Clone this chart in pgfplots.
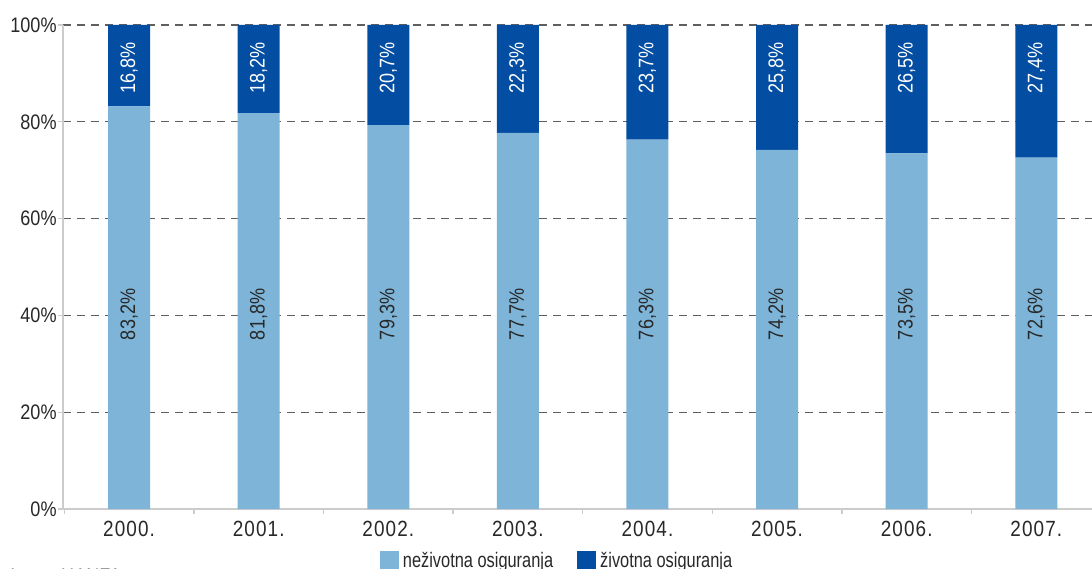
\documentclass[border=0pt]{standalone}
\usepackage{fontspec}
\setmainfont{Liberation Sans}[FakeStretch=0.86]
\newfontfamily\legfont{Liberation Sans}[FakeStretch=0.78]
\newfontfamily\xfont{Liberation Sans}[FakeStretch=0.86, LetterSpace=5]
\usepackage{pgfplots}
\usepackage{pgfplotstable}
\pgfplotsset{compat=1.18}
\definecolor{light}{RGB}{125,180,216}
\definecolor{dark}{RGB}{3,78,162}
\definecolor{axgray}{RGB}{204,204,204}
\definecolor{gridgray}{RGB}{95,95,95}
\definecolor{txt}{RGB}{40,40,40}
\pgfplotstableread{
x v
0 83.2
1 81.8
2 79.3
3 77.7
4 76.3
5 74.2
6 73.5
7 72.6
}\nez
\pgfplotstableread{
x v
0 16.8
1 18.2
2 20.7
3 22.3
4 23.7
5 25.8
6 26.5
7 27.4
}\ziv
\pgfplotsset{
  common/.style={
    at={(31.5pt,29.5pt)}, anchor=south west,
    scale only axis, width=514.5pt, height=242pt,
    xmin=-0.51, xmax=7.43, ymin=0, ymax=100,
  }
}
\begin{document}
\begin{tikzpicture}[x=1pt,y=1pt]
\useasboundingbox (0,0) rectangle (546,284);
\begin{axis}[
  common,
  ybar stacked, bar width=21pt,
  axis x line*=bottom, axis y line*=left,
  axis line style={axgray, line width=0.7pt},
  tick align=outside,
  xtick={0,...,7},
  xticklabels={2000.,2001.,2002.,2003.,2004.,2005.,2006.,2007.},
  minor xtick={-0.5,0.5,...,7.5},
  major x tick style={draw=none},
  minor x tick style={axgray, line width=0.7pt},
  minor tick length=2.5pt,
  ytick={20,40,...,100},
  extra y ticks={0},
  extra y tick style={grid=none},
  y tick style={axgray, line width=0.7pt},
  major tick length=2.5pt,
  ymajorgrids,
  grid style={gridgray, line width=0.6pt, dash pattern=on 4pt off 3pt},
  /pgf/number format/assume math mode=true,
  yticklabel={\pgfmathprintnumber{\tick}\%},
  ticklabel style={font=\fontsize{10.5}{12}\selectfont, text=txt},
  yticklabel style={inner xsep=0.5pt},
  xticklabel style={inner ysep=1.5pt, yshift=-2pt, font=\xfont\fontsize{11}{12}\selectfont},
  legend style={at={(0.308,0)}, anchor=north west, yshift=-19.5pt, draw=none, fill=none,
    legend columns=-1, font=\legfont\fontsize{10.5}{12}\selectfont, text=txt,
    /tikz/every even column/.append style={column sep=10pt},
    inner sep=0pt, outer sep=0pt},
  legend image code/.code={\fill[#1] (0pt,-4.5pt) rectangle (9.5pt,5pt);},
]
\addplot[fill=light, draw=none] table[x=x, y=v] {\nez};
\addplot[fill=dark, draw=none] table[x=x, y=v] {\ziv};
\legend{neživotna osiguranja, životna osiguranja}
\end{axis}
\begin{axis}[
  common, hide axis,
  point meta=explicit,
  nodes near coords={\pgfmathprintnumber[fixed,fixed zerofill,precision=1,use comma,assume math mode=true]{\pgfplotspointmeta}\%},
  every node near coord/.append style={rotate=90, anchor=center, inner sep=0pt, font=\fontsize{10.5}{12}\selectfont},
]
\addplot[only marks, mark=none, every node near coord/.append style={text=txt}] table[x=x, y expr=40.2, meta=v] {\nez};
\addplot[only marks, mark=none, every node near coord/.append style={text=white}] table[x=x, y expr=91.1, meta=v] {\ziv};
\end{axis}
\node[anchor=base west, inner sep=0pt, text=txt, font=\fontsize{10.5}{12}\selectfont] at (5,-7.5) {Izvor: HANFA};
\end{tikzpicture}
\end{document}
